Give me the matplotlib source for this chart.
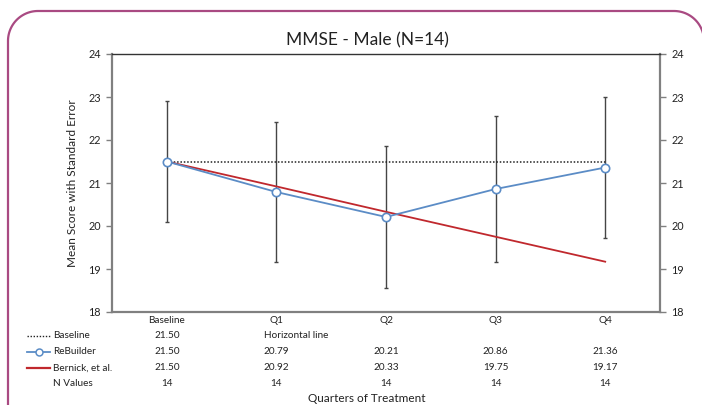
import matplotlib
matplotlib.use("Agg")
import matplotlib.pyplot as plt
import matplotlib.transforms as mtransforms
from matplotlib.lines import Line2D
import numpy as np

plt.rcParams['font.family'] = ['Lato', 'DejaVu Sans']

# data
categories = ['Baseline', 'Q1', 'Q2', 'Q3', 'Q4']
baseline_value = 21.50
rebuilder = [21.50, 20.79, 20.21, 20.86, 21.36]
bernick = [21.50, 20.92, 20.33, 19.75, 19.17]
std_err = [1.40, 1.62, 1.66, 1.69, 1.63]
n_values = [14, 14, 14, 14, 14]

blue = "#5B8CC6"
red = "#C0282D"
dark = "#454545"
gray = "#808080"

W, H = 702, 405
fig = plt.figure(figsize=(W / 100, H / 100), dpi=100)

# axes box in pixels: left 112, right 660, top 54, bottom 312
ax = fig.add_axes([112 / W, 1 - 312 / H, (660 - 112) / W, (312 - 54) / H])

x = np.arange(len(categories))

# error bars first so the lines sit on top
ax.errorbar(x, rebuilder, yerr=std_err, fmt='none', ecolor=dark,
            elinewidth=1.0, capsize=1.5, capthick=1.0, zorder=2)

# baseline dotted horizontal line
ax.plot([x[0], x[-1]], [baseline_value, baseline_value], color='#222222',
        linestyle=(0, (1, 1.2)), linewidth=1.1, zorder=3)
ax.plot(x, bernick, color=red, linewidth=1.3, zorder=4)
ax.plot(x, rebuilder, color=blue, linewidth=1.3, marker='o', markersize=6,
        markerfacecolor='white', markeredgecolor=blue, markeredgewidth=1.2,
        zorder=5)

ax.set_xlim(-0.5, 4.5)
ax.set_ylim(18, 24)
ax.set_yticks(range(18, 25))
ax.set_xticks(x)
ax.set_xticklabels(categories)
ax.tick_params(axis='x', length=0, pad=3, labelsize=7.2, colors='#222222')
ax.tick_params(axis='y', direction='out', length=4, width=1, color=gray,
               labelsize=7.8, colors='#222222', pad=4,
               right=True, labelright=True)
ax.tick_params(axis='y', which='both', color=gray)

for side in ['left', 'right', 'bottom']:
    ax.spines[side].set_color(gray)
    ax.spines[side].set_linewidth(1.6)
ax.spines['top'].set_color('#333333')
ax.spines['top'].set_linewidth(1.0)

# title and axis titles
fig.text(367 / W, 1 - 40 / H, "MMSE - Male (N=14)", ha='center', va='center',
         fontsize=12.5, color='#222222')
fig.text(72 / W, 1 - 183 / H, "Mean Score with Standard Error", rotation=90,
         ha='center', va='center', fontsize=8.5, color='#222222')
fig.text(367 / W, 1 - 398 / H, "Quarters of Treatment", ha='center',
         va='center', fontsize=8.5, color='#222222')

# data table under the axis
tr = mtransforms.blended_transform_factory(ax.transData, fig.transFigure)
rows_y = [336, 352, 368, 383]

def row_text(xv, ypix, s, ha='center'):
    ax.text(xv, 1 - ypix / H, s, transform=tr, ha=ha, va='center',
            fontsize=7.2, color='#222222', clip_on=False)

row_text(x[0], rows_y[0], f"{baseline_value:.2f}")
ax.text(x[1] - 0.11, 1 - rows_y[0] / H, "Horizontal line", transform=tr,
        ha='left', va='center', fontsize=7.2, color='#222222')
for i in range(len(categories)):
    row_text(x[i], rows_y[1], f"{rebuilder[i]:.2f}")
    row_text(x[i], rows_y[2], f"{bernick[i]:.2f}")
    row_text(x[i], rows_y[3], str(n_values[i]))

# row labels with legend keys
labels = ["Baseline", "ReBuilder", "Bernick, et al.", "N Values"]
for lab, yp in zip(labels, rows_y):
    fig.text(53 / W, 1 - yp / H, lab, ha='left', va='center', fontsize=7.2,
             color='#222222')

def key(yp, **kw):
    fig.add_artist(Line2D([27 / W, 50 / W], [1 - yp / H, 1 - yp / H],
                          transform=fig.transFigure, **kw))

key(rows_y[0], color='#222222', linestyle=(0, (1, 1.2)), linewidth=1.0)
key(rows_y[1], color=blue, linewidth=1.3)
fig.add_artist(Line2D([39 / W], [1 - rows_y[1] / H], transform=fig.transFigure,
                      marker='o', markersize=5, markerfacecolor='white',
                      markeredgecolor=blue, markeredgewidth=1.1, linestyle='none'))
key(rows_y[2], color=red, linewidth=1.6)

# rounded frame around the panel, built in pixel coordinates
r = 30
left, right, top = 8, 704, H - 11
t = np.linspace(0, np.pi / 2, 30)
# left corner: from bottom-left going up, around to the top edge
lx = np.concatenate([[left], left + r - r * np.cos(t), [right - r]])
ly = np.concatenate([[-10], top - r + r * np.sin(t), [top]])
# right corner going down
rx = right - r + r * np.sin(t)
ry = top - r + r * np.cos(t)
fx = np.concatenate([lx, rx, [right]])
fy = np.concatenate([ly, ry, [-10]])
fig.add_artist(Line2D(fx, fy, transform=mtransforms.IdentityTransform(),
                      color='#A94A82', linewidth=1.6, clip_on=False))

fig.savefig("out.png", dpi=100)
